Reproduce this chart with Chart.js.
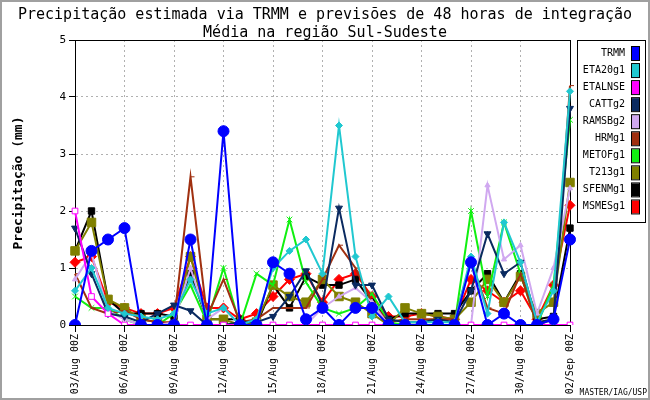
<!DOCTYPE html>
<html>
<head>
<meta charset="utf-8">
<script src="https://cdn.jsdelivr.net/npm/chart.js@4"></script>
<style>
  body { margin: 0; background: #fff; }
  #wrap { width: 650px; height: 400px; position: relative; }
</style>
</head>
<body>
<div id="wrap"><canvas id="chuva" width="650" height="400"></canvas></div>
<script>
// dias (00Z) de 03/Aug a 02/Sep
const dias = ["03/Aug","04/Aug","05/Aug","06/Aug","07/Aug","08/Aug","09/Aug","10/Aug","11/Aug","12/Aug",
  "13/Aug","14/Aug","15/Aug","16/Aug","17/Aug","18/Aug","19/Aug","20/Aug","21/Aug","22/Aug",
  "23/Aug","24/Aug","25/Aug","26/Aug","27/Aug","28/Aug","29/Aug","30/Aug","31/Aug","01/Sep","02/Sep"];

const titulos = ["Precipitação estimada via TRMM e previsões de 48 horas de integração", "Média na região Sul-Sudeste"];
const tituloY = "Precipitação (mm)";
const yTicks = [0, 1, 2, 3, 4, 5];

const trmm    = [0, 1.3, 1.5, 1.7, 0, 0, 0, 1.5, 0, 3.4, 0, 0, 1.1, 0.9, 0.1, 0.3, 0, 0.3, 0.3, 0, 0, 0, 0, 0, 1.1, 0, 0.2, 0, 0, 0.1, 1.5];
const eta20   = [0.6, 1.0, 0.3, 0.2, 0.15, 0.1, 0.2, 0.8, 0.2, 0.3, 0, 0.1, 1.0, 1.3, 1.5, 0.9, 3.5, 1.2, 0.15, 0.5, 0.05, 0.05, 0.05, 0.05, 1.2, 0.2, 1.8, 1.1, 0.05, 0.6, 4.1];
const etalnse = [2.0, 0.5, 0.2, 0, 0, 0, 0, 0, 0, 0, 0, 0, 0, 0, 0, 0, 0, 0, 0, 0, 0, 0, 0, 0, 0, 0, 0, 0, 0, 0, 0];
const catt    = [1.7, 0.9, 0.2, 0.15, 0.05, 0.2, 0.35, 0.25, 0, 0, 0.05, 0.05, 0.15, 0.5, 0.95, 0.35, 2.05, 0.7, 0.7, 0.1, 0.05, 0.05, 0.1, 0.05, 0.6, 1.6, 0.9, 1.1, 0.05, 0.1, 3.8];
const ramsb   = [0.8, 1.25, 0.25, 0.1, 0, 0, 0.05, 1.0, 0.1, 0.3, 0, 0, 0, 0, 0, 0.3, 0.5, 0.65, 0.4, 0, 0, 0, 0, 0, 0, 2.45, 1.15, 1.4, 0.2, 1.0, 2.4];
const hrm     = [0.9, 0.3, 0.2, 0.25, 0.1, 0.05, 0.05, 2.6, 0.15, 0.8, 0.05, 0.1, 0.3, 0.3, 0.3, 0.8, 1.4, 1.0, 0.4, 0.05, 0.1, 0.1, 0.1, 0.1, 1.1, 0.3, 0.2, 0.9, 0, 0.1, 4.2];
const metof   = [0.5, 0.3, 0.3, 0.1, 0, 0, 0.2, 0.7, 0.05, 1.0, 0, 0.9, 0.7, 1.85, 0.75, 0.3, 0.2, 0.3, 0.55, 0.05, 0, 0, 0, 0, 2.0, 0.5, 1.8, 0.9, 0, 0.7, 3.6];
const t213    = [1.3, 1.8, 0.45, 0.3, 0.1, 0.05, 0, 1.2, 0.1, 0.1, 0, 0.05, 0.7, 0.5, 0.4, 0.8, 0.5, 0.4, 0.2, 0, 0.3, 0.2, 0.15, 0.1, 0.4, 0.8, 0.4, 0.85, 0.2, 0.4, 2.5];
const sfenm   = [1.3, 2.0, 0.45, 0.2, 0.2, 0.2, 0.15, 0.9, 0.1, 0.1, 0.1, 0, 0.7, 0.3, 0.85, 0.7, 0.7, 0.8, 0.4, 0.1, 0.2, 0.2, 0.2, 0.2, 0.6, 0.9, 0.4, 0.9, 0.1, 0.15, 1.7];
const msmes   = [1.1, 1.2, 0.4, 0.3, 0.2, 0.2, 0.3, 1.2, 0.3, 0.3, 0.1, 0.2, 0.5, 0.8, 0.9, 0.4, 0.8, 0.9, 0.5, 0.15, 0.15, 0.2, 0.15, 0.1, 0.8, 0.6, 0.4, 0.6, 0.1, 0.7, 2.1];

const nomes = ["TRMM","ETA20g1","ETALNSE","CATTg2","RAMSBg2","HRMg1","METOFg1","T213g1","SFENMg1","MSMESg1"];
const series = [trmm, eta20, etalnse, catt, ramsb, hrm, metof, t213, sfenm, msmes];
const cores = ["#0000ff","#20c8d0","#ff00ff","#0a2a60","#d0a8f0","#a03010","#10f010","#808000","#000000","#ff0000"];
const marcas = ["circle","rectRot","rect","triangle","triangle","dash","crossRot","rect","rect","rectRot"];
const raios = [5.5, 3.5, 4, 4, 3, 4, 4, 6, 4.5, 5];

const mono = "'DejaVu Sans Mono', monospace";

const datasets = series.map(function (dados, i) {
    return {
        label: nomes[i],
        data: dados,
        borderColor: cores[i],
        backgroundColor: cores[i],
        pointBackgroundColor: i === 2 ? "#ffffff" : cores[i],
        pointBorderColor: cores[i],
        pointStyle: marcas[i],
        pointRotation: i === 3 ? 180 : 0,
        pointRadius: raios[i],
        pointBorderWidth: 1,
        borderWidth: 2,
        tension: 0,
        fill: false
    };
});

// moldura, titulos, legenda e assinatura
const extras = {
    id: "extras",
    beforeDatasetsDraw(chart) {
        const ctx = chart.ctx;
        const a = chart.chartArea;
        ctx.save();
        ctx.strokeStyle = "#000";
        ctx.lineWidth = 1;
        ctx.strokeRect(a.left + 0.5, a.top + 0.5, a.right - a.left, a.bottom - a.top);
        ctx.restore();
    },
    afterDraw(chart) {
        const ctx = chart.ctx;
        ctx.save();
        // borda cinza da figura
        ctx.strokeStyle = "#a0a0a0";
        ctx.lineWidth = 2;
        ctx.strokeRect(1, 1, 648, 398);

        ctx.fillStyle = "#000";
        ctx.textAlign = "center";
        ctx.textBaseline = "middle";
        ctx.font = "15px " + mono;
        ctx.fillText(titulos[0], 325, 15);
        ctx.fillText(titulos[1], 325, 33);

        // titulo do eixo y
        ctx.save();
        ctx.translate(19, 183);
        ctx.rotate(-Math.PI / 2);
        ctx.font = "bold 13px " + mono;
        ctx.fillText(tituloY, 0, 0);
        ctx.restore();

        // legenda
        ctx.strokeStyle = "#000";
        ctx.lineWidth = 1;
        ctx.strokeRect(577.5, 40.5, 68, 182);
        ctx.font = "10px " + mono;
        ctx.textAlign = "right";
        nomes.forEach(function (n, i) {
            const y = 53 + 17.05 * i;
            ctx.fillStyle = "#000";
            ctx.fillText(n, 625, y);
            ctx.fillStyle = cores[i];
            ctx.fillRect(632, y - 6, 7, 13);
            ctx.strokeRect(631.5, y - 6.5, 8, 14);
        });

        ctx.font = "8px " + mono;
        ctx.textAlign = "right";
        ctx.fillStyle = "#000";
        ctx.fillText("MASTER/IAG/USP", 647, 393);
        ctx.restore();
    }
};

const ctx = document.getElementById("chuva").getContext("2d");
new Chart(ctx, {
    type: "line",
    data: { labels: dias.map(d => d + " 00Z"), datasets: datasets },
    plugins: [extras],
    options: {
        responsive: false,
        animation: false,
        devicePixelRatio: 1,
        layout: { padding: { top: 40, right: 80, left: 0, bottom: 0 } },
        plugins: { legend: { display: false }, title: { display: false }, tooltip: { enabled: false } },
        scales: {
            x: {
                offset: false,
                afterFit: s => { s.height = 75; },
                grid: {
                    color: c => (c.index % 3 === 0 ? "#b0b0b0" : "rgba(0,0,0,0)"),
                    tickColor: c => (c.index % 3 === 0 ? "#000" : "rgba(0,0,0,0)"),
                    tickLength: 7,
                    tickBorderDash: [],
                    lineWidth: 1
                },
                border: { display: true, color: "#000", dash: [2, 3] },
                ticks: {
                    autoSkip: false,
                    maxRotation: 90,
                    minRotation: 90,
                    padding: 2,
                    color: "#000",
                    font: { family: mono, size: 10 },
                    callback: function (v, i) { return i % 3 === 0 ? this.getLabelForValue(v) : ""; }
                }
            },
            y: {
                min: 0,
                max: 5,
                afterFit: s => { s.width = 75; },
                afterBuildTicks: s => { s.ticks = yTicks.map(v => ({ value: v })); },
                grid: { color: "#b0b0b0", tickColor: "#000", tickLength: 6, tickBorderDash: [] },
                border: { display: true, color: "#000", dash: [2, 3] },
                ticks: { padding: 3, color: "#000", font: { family: mono, size: 11 } }
            }
        }
    }
});
</script>
</body>
</html>
